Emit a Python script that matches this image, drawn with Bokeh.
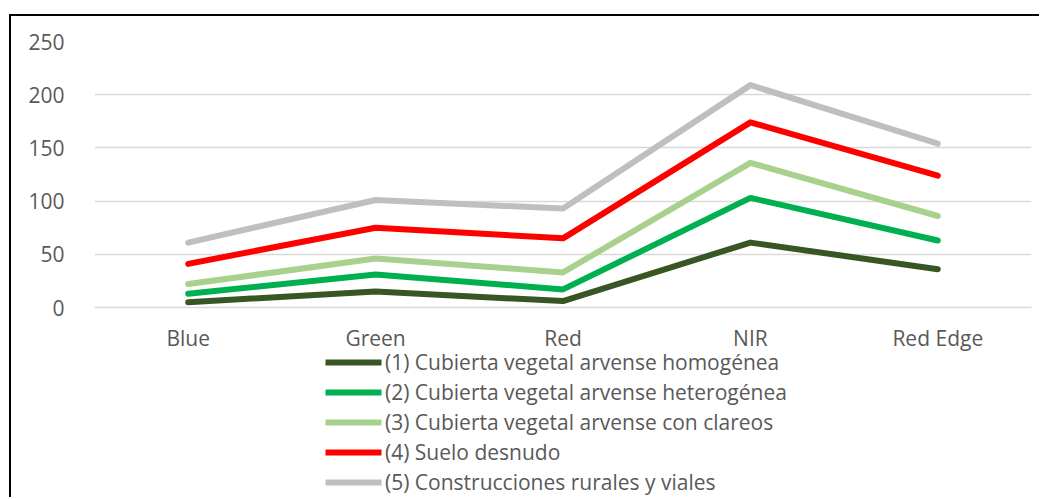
from bokeh.plotting import figure
from bokeh.models import Range1d, FactorRange, FixedTicker, Legend, LegendItem, LinearAxis
from bokeh.embed import file_html
from bokeh.resources import INLINE

bands = ["Blue", "Green", "Red", "NIR", "Red Edge"]
series_names = [
    "(1) Cubierta vegetal arvense homogénea",
    "(2) Cubierta vegetal arvense heterogénea",
    "(3) Cubierta vegetal arvense con clareos",
    "(4) Suelo desnudo",
    "(5) Construcciones rurales y viales",
]
s1 = [5, 15, 6, 61, 36]
s2 = [13, 31, 17, 103, 63]
s3 = [22, 46, 33, 136, 86]
s4 = [41, 75, 65, 174, 124]
s5 = [61, 101, 93, 209, 154]
y_ticks = [0, 50, 100, 150, 200, 250]

colors = ["#375623", "#00B050", "#A9D18E", "#FF0000", "#BFBFBF"]
FONT = "Open Sans"
TXT = "#595959"
FS = "21px"

p = figure(frame_width=937, frame_height=266, x_range=FactorRange(*bands), y_range=Range1d(0, 250),
           output_backend="svg", toolbar_location=None,
           min_border_left=83, min_border_right=8, min_border_top=25, min_border_bottom=0)
p.outline_line_color = None
p.background_fill_color = "white"
p.border_fill_color = "white"

p.xgrid.grid_line_color = None
p.ygrid.grid_line_color = "#D9D9D9"
p.ygrid.grid_line_width = 1.3
p.yaxis.ticker = FixedTicker(ticks=y_ticks)
p.yaxis.axis_line_color = None
p.yaxis.major_tick_line_color = None
p.yaxis.minor_tick_line_color = None
p.yaxis.major_label_standoff = 24
p.xaxis.axis_line_color = "#D9D9D9"
p.xaxis.axis_line_width = 1.3
p.xaxis.major_tick_line_color = None
p.xaxis.minor_tick_line_color = None
p.xaxis.major_label_standoff = 10
for ax in (p.xaxis, p.yaxis):
    ax.major_label_text_font = FONT
    ax.major_label_text_font_size = FS
    ax.major_label_text_color = TXT

# empty spacer axis on the far left, shifts the tick labels to the right
spacer = LinearAxis(ticker=FixedTicker(ticks=[]), axis_line_color=None,
                    major_tick_line_color=None, minor_tick_line_color=None,
                    major_tick_out=0, major_tick_in=0, minor_tick_out=0, major_label_standoff=0,
                    axis_label=" ", axis_label_text_font_size="3px", axis_label_standoff=5,
                    axis_label_text_color="white")
p.add_layout(spacer, "left")

items = []
for name, vals, c in zip(series_names, [s1, s2, s3, s4, s5], colors):
    r = p.line(x=bands, y=vals, line_color=c, line_width=6, line_cap="round", line_join="round")
    items.append(LegendItem(label=name, renderers=[r]))

legend = Legend(items=items, location="top_center", orientation="vertical",
                label_text_font=FONT, label_text_font_size=FS, label_text_color=TXT,
                glyph_width=56, glyph_height=24, label_height=24, label_width=415, spacing=2,
                label_standoff=4, padding=0, margin=-6,
                background_fill_alpha=0, border_line_color=None)
p.add_layout(legend, "below")

p.styles = {"border-left": "2px solid black", "border-top": "2px solid black",
            "margin-left": "9px", "margin-top": "14px",
            "height": "483px", "overflow": "hidden"}

open("out.html", "w").write(file_html(p, INLINE))
